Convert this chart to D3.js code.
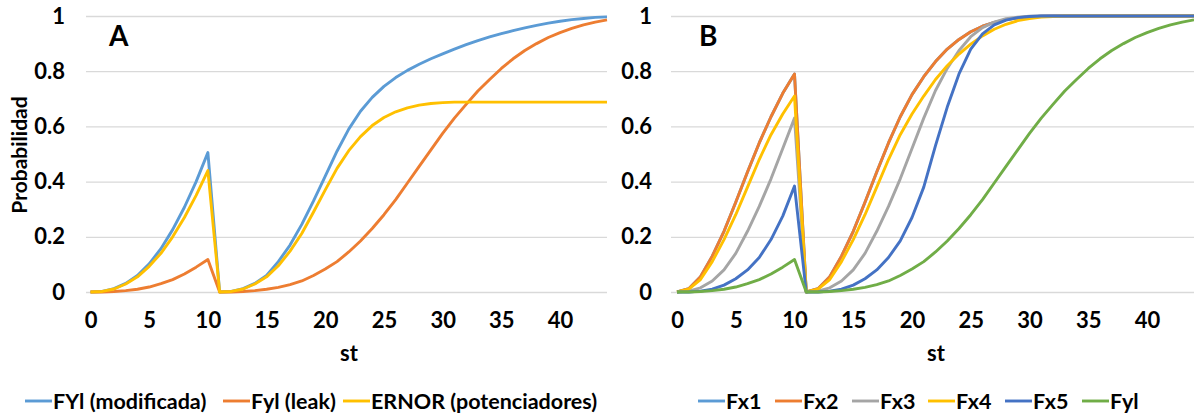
<!DOCTYPE html>
<html>
<head>
<meta charset="utf-8">
<script src="https://cdn.jsdelivr.net/npm/d3@7"></script>
<style>
  body { margin: 0; background: #fff; }
  text { font-family: Lato, "Open Sans", sans-serif; font-weight: bold; fill: #000; }
</style>
</head>
<body>
<script>
const width = 1194;
const height = 415;

// categories (st) and tick labels
const st = d3.range(0, 45);
const xTicks = [0, 5, 10, 15, 20, 25, 30, 35, 40];
const yTicks = [0, 0.2, 0.4, 0.6, 0.8, 1];

// panel A series
const fylModificada = [0, 0.002, 0.012, 0.031, 0.06, 0.102, 0.157, 0.226, 0.307, 0.4, 0.505,
  0,
  0.002, 0.012, 0.031, 0.06, 0.11, 0.17, 0.245, 0.33, 0.42, 0.51, 0.59, 0.655, 0.705, 0.745,
  0.777, 0.803, 0.825, 0.845, 0.863, 0.88, 0.896, 0.911, 0.924, 0.936, 0.947, 0.957, 0.966,
  0.974, 0.981, 0.987, 0.991, 0.995, 0.997];
const fylLeak = [0, 0, 0.002, 0.005, 0.01, 0.018, 0.03, 0.045, 0.065, 0.09, 0.118,
  0,
  0, 0.002, 0.005, 0.01, 0.017, 0.027, 0.04, 0.06, 0.083, 0.11, 0.145, 0.185, 0.23, 0.28,
  0.335, 0.395, 0.455, 0.515, 0.575, 0.63, 0.68, 0.728, 0.77, 0.81, 0.845, 0.875, 0.9,
  0.922, 0.94, 0.955, 0.968, 0.978, 0.986];
const ernor = [0, 0.002, 0.011, 0.029, 0.055, 0.093, 0.14, 0.2, 0.27, 0.35, 0.44,
  0,
  0.002, 0.011, 0.029, 0.055, 0.095, 0.148, 0.212, 0.29, 0.37, 0.448, 0.512, 0.563, 0.603,
  0.632, 0.653, 0.667, 0.677, 0.683, 0.686, 0.688, 0.688, 0.688, 0.688, 0.688, 0.688, 0.688,
  0.688, 0.688, 0.688, 0.688, 0.688, 0.688, 0.688];

// panel B series
const fx1 = [0, 0.012, 0.055, 0.13, 0.22, 0.325, 0.435, 0.54, 0.635, 0.72, 0.79,
  0,
  0.012, 0.055, 0.13, 0.22, 0.325, 0.435, 0.54, 0.635, 0.715, 0.78, 0.835, 0.88, 0.915,
  0.943, 0.963, 0.977, 0.987, 0.993, 0.997, 0.999, 1, 1, 1, 1, 1, 1, 1, 1, 1, 1, 1, 1, 1];
const fx2 = [0, 0.012, 0.055, 0.13, 0.22, 0.325, 0.435, 0.54, 0.635, 0.72, 0.79,
  0,
  0.012, 0.055, 0.13, 0.22, 0.325, 0.435, 0.54, 0.635, 0.715, 0.78, 0.835, 0.88, 0.915,
  0.943, 0.963, 0.977, 0.987, 0.993, 0.997, 0.999, 1, 1, 1, 1, 1, 1, 1, 1, 1, 1, 1, 1, 1];
const fx3 = [0, 0.003, 0.015, 0.04, 0.08, 0.14, 0.22, 0.31, 0.41, 0.52, 0.63,
  0,
  0.003, 0.015, 0.04, 0.08, 0.14, 0.22, 0.31, 0.41, 0.52, 0.63, 0.73, 0.81, 0.875, 0.925,
  0.958, 0.978, 0.99, 0.996, 0.999, 1, 1, 1, 1, 1, 1, 1, 1, 1, 1, 1, 1, 1, 1];
const fx4 = [0, 0.01, 0.045, 0.11, 0.19, 0.28, 0.38, 0.48, 0.57, 0.645, 0.71,
  0,
  0.01, 0.045, 0.11, 0.19, 0.28, 0.38, 0.48, 0.57, 0.645, 0.71, 0.77, 0.82, 0.862, 0.898,
  0.928, 0.952, 0.97, 0.983, 0.991, 0.996, 0.998, 1, 1, 1, 1, 1, 1, 1, 1, 1, 1, 1, 1];
const fx5 = [0, 0, 0.003, 0.01, 0.025, 0.048, 0.08, 0.125, 0.19, 0.275, 0.384,
  0,
  0, 0.003, 0.01, 0.025, 0.048, 0.08, 0.125, 0.185, 0.27, 0.38, 0.53, 0.67, 0.79, 0.88,
  0.935, 0.968, 0.985, 0.994, 0.998, 1, 1, 1, 1, 1, 1, 1, 1, 1, 1, 1, 1, 1, 1];

const namesA = ["FYl (modificada)", "Fyl (leak)", "ERNOR (potenciadores)"];
const namesB = ["Fx1", "Fx2", "Fx3", "Fx4", "Fx5", "Fyl"];
const colorsA = ["#5B9BD5", "#ED7D31", "#FFC000"];
const colorsB = ["#5B9BD5", "#ED7D31", "#A5A5A5", "#FFC000", "#4472C4", "#70AD47"];

const svg = d3.select("body").append("svg")
  .attr("width", width)
  .attr("height", height);

function drawPanel(opt) {
  const x = d3.scaleLinear().domain([0, 44]).range([opt.x0, opt.x1]);
  const y = d3.scaleLinear().domain([0, 1]).range([292, 16]);
  const g = svg.append("g");

  // gridlines + y labels
  const yAxis = g.append("g")
    .attr("transform", `translate(${opt.gridLeft},0)`)
    .call(d3.axisLeft(y).tickValues(yTicks)
      .tickSize(-(opt.gridRight - opt.gridLeft))
      .tickPadding(opt.gridLeft - opt.labelRight)
      .tickFormat(d => d === 0 || d === 1 ? d3.format("d")(d) : d3.format(".1f")(d)));
  yAxis.select(".domain").remove();
  yAxis.selectAll("line").attr("stroke", "#d9d9d9").attr("stroke-width", 1.3);
  yAxis.selectAll("text").style("font-size", "22px").attr("fill", "#000");

  // x labels
  const xAxis = g.append("g")
    .attr("transform", "translate(0,292)")
    .call(d3.axisBottom(x).tickValues(xTicks).tickSize(0).tickPadding(20));
  xAxis.select(".domain").remove();
  xAxis.selectAll("text").style("font-size", "22px").attr("fill", "#000");

  // lines
  const line = d3.line().x((d, i) => x(st[i])).y(d => y(d));
  opt.series.forEach((s, i) => {
    g.append("path")
      .datum(s)
      .attr("d", line)
      .attr("fill", "none")
      .attr("stroke", opt.colors[i])
      .attr("stroke-width", 2.9)
      .attr("stroke-linejoin", "round");
  });

  // axis title
  g.append("text")
    .attr("x", opt.titleX)
    .attr("y", 361)
    .attr("text-anchor", "middle")
    .style("font-size", "22px")
    .text("st");

  // panel letter
  g.append("text")
    .attr("x", opt.letterX)
    .attr("y", 46)
    .style("font-size", "28px")
    .text(opt.letter);

  // legend
  opt.names.forEach((n, i) => {
    const lx = opt.legendX[i];
    g.append("line")
      .attr("x1", lx).attr("x2", lx + 27)
      .attr("y1", 401).attr("y2", 401)
      .attr("stroke", opt.colors[i])
      .attr("stroke-width", 2.9);
    g.append("text")
      .attr("x", lx + 28)
      .attr("y", 409)
      .style("font-size", "21.5px")
      .text(n);
  });
}

drawPanel({
  x0: 90.5, x1: 607, gridLeft: 86, gridRight: 607, labelRight: 65,
  series: [fylModificada, fylLeak, ernor], colors: colorsA, names: namesA,
  titleX: 349, letter: "A", letterX: 109, legendX: [25, 223, 343]
});

drawPanel({
  x0: 677, x1: 1194, gridLeft: 671, gridRight: 1194, labelRight: 652,
  series: [fx1, fx2, fx3, fx4, fx5, fylLeak], colors: colorsB, names: namesB,
  titleX: 936, letter: "B", letterX: 699, legendX: [698, 775, 852, 928, 1005, 1082]
});

// y axis title
svg.append("text")
  .attr("transform", "translate(27,155) rotate(-90)")
  .attr("text-anchor", "middle")
  .style("font-size", "21px")
  .text("Probabilidad");
</script>
</body>
</html>
